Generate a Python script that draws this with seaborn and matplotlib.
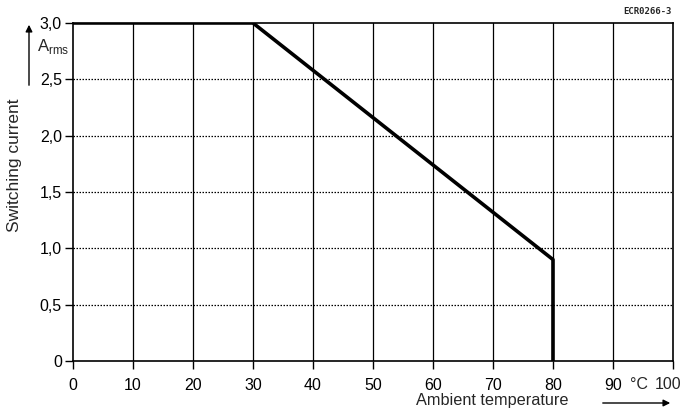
import matplotlib
matplotlib.use("Agg")
import matplotlib.pyplot as plt
import matplotlib.transforms as mtransforms
import seaborn as sns
import pandas as pd

# Derating curve
temperature = [0, 30, 80, 80]
current = [3.0, 3.0, 0.9, 0.0]

x_ticks = [0, 10, 20, 30, 40, 50, 60, 70, 80, 90, 100]
x_labels = ["0", "10", "20", "30", "40", "50", "60", "70", "80", "90", ""]
y_ticks = [0, 0.5, 1.0, 1.5, 2.0, 2.5, 3.0]
y_labels = ["0", "0,5", "1,0", "1,5", "2,0", "2,5", "3,0"]

sns.set_style("ticks")
plt.rcParams["font.family"] = ["Liberation Sans", "DejaVu Sans"]

df = pd.DataFrame({"temp": temperature, "current": current})

fig = plt.figure(figsize=(6.84, 4.11), dpi=100)
ax = fig.add_axes([0.1067, 0.1217, 0.8772, 0.8224])

# grid: solid verticals, dotted horizontals
for x in x_ticks[1:-1]:
    ax.axvline(x, color="black", lw=0.9, zorder=1)
for y in y_ticks[1:-1]:
    ax.axhline(y, color="black", lw=0.9, ls=(0, (1.2, 1.2)), zorder=1)

sns.lineplot(data=df, x="temp", y="current", sort=False, estimator=None,
             color="black", linewidth=2.6, ax=ax, zorder=3)

ax.set_xlim(0, 100)
ax.set_ylim(0, 3.0)
ax.set_xticks(x_ticks)
ax.set_xticklabels(x_labels, fontsize=11.5)
ax.set_yticks(y_ticks)
ax.set_yticklabels(y_labels, fontsize=11.5)
ax.tick_params(direction="out", length=6, width=1.0, colors="black")
ax.tick_params(axis="x", pad=6)
ax.tick_params(axis="y", pad=2)
for s in ax.spines.values():
    s.set_visible(True)
    s.set_color("black")
    s.set_linewidth(1.2)
ax.set_xlabel("")
ax.set_ylabel("")

# unit and last label squeezed in at the right end, as in the drawing
xfig = mtransforms.blended_transform_factory(ax.transData, fig.transFigure)
ax.text(94.3, 1 - 384 / 411, "°C", transform=xfig, ha="center",
        va="center", fontsize=11.5)
ax.text(99.2, 1 - 384 / 411, "100", transform=xfig, ha="center",
        va="center", fontsize=11.5)

# axis titles and annotations placed like the original drawing
fig.text(15 / 684, 1 - 165 / 411, "Switching current", rotation=90,
         ha="center", va="center", fontsize=12.5)
ax.annotate("", xy=(29 / 684, 1 - 22 / 411), xytext=(29 / 684, 1 - 88 / 411),
            xycoords="figure fraction", textcoords="figure fraction",
            arrowprops=dict(arrowstyle="-|>", color="black", lw=1.0,
                            mutation_scale=10))
fig.text(37 / 684, 1 - 47 / 411, r"A$_{\mathregular{rms}}$", ha="left",
         va="center", fontsize=12)

fig.text(492 / 684, 1 - 400 / 411, "Ambient temperature", ha="center",
         va="center", fontsize=11.7)
ax.annotate("", xy=(673 / 684, 1 - 403 / 411), xytext=(600 / 684, 1 - 403 / 411),
            xycoords="figure fraction", textcoords="figure fraction",
            arrowprops=dict(arrowstyle="-|>", color="black", lw=1.0,
                            mutation_scale=10))

fig.text(672 / 684, 1 - 11 / 411, "ECR0266-3", ha="right", va="center",
         fontsize=6.5, fontweight="bold", family="DejaVu Sans Mono")

fig.savefig("out.png", dpi=100)
